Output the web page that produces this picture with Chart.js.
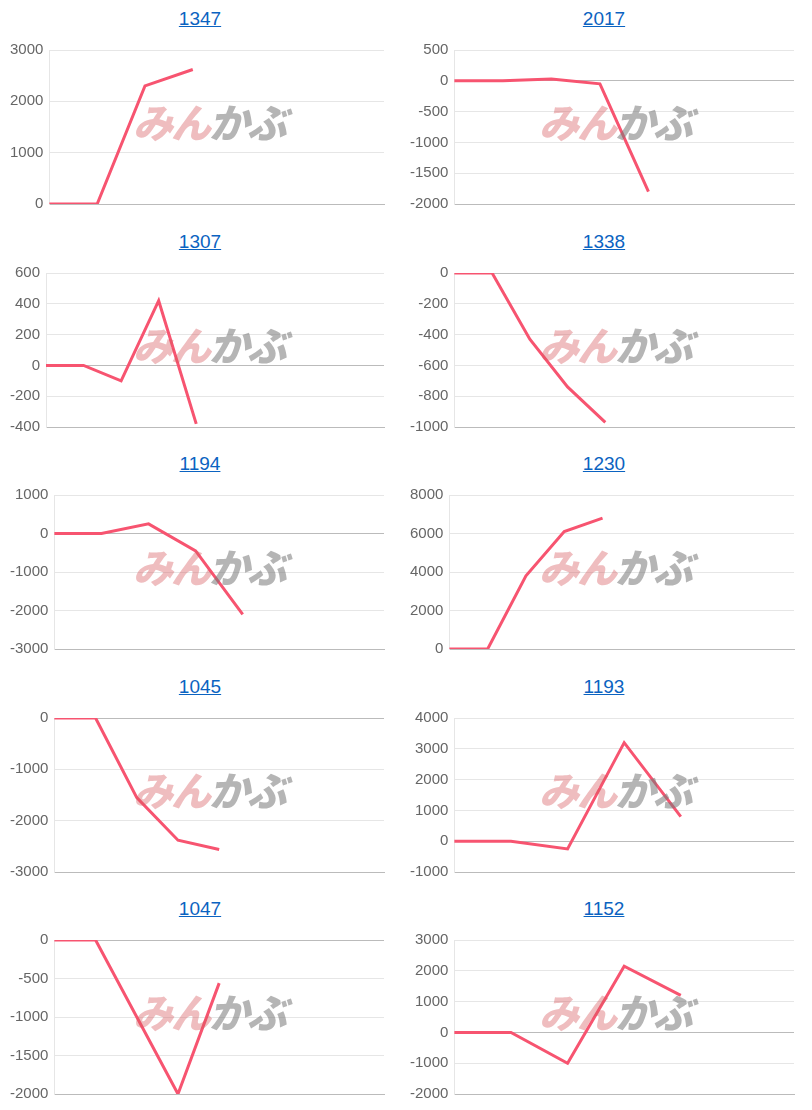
<!DOCTYPE html>
<html><head><meta charset="utf-8">
<script src="https://cdn.jsdelivr.net/npm/chart.js@4"></script>
<style>
body{margin:0;background:#fff;font-family:Arial,"Liberation Sans",sans-serif;}
.cell{position:absolute;width:400px;height:222px;}
.ttl{position:absolute;top:8px;left:0;right:0;text-align:center;font-size:19px;color:#0b63c1;text-decoration:underline;}
.cv{position:absolute;left:0;top:35px;width:100%;height:184px;}
.wm{position:absolute;font-family:"Noto Sans CJK JP",sans-serif;font-weight:900;font-style:italic;font-size:40px;letter-spacing:-2px;white-space:nowrap;pointer-events:none;}
.wm .a{color:rgba(215,90,95,0.4);} .wm .b{color:rgba(120,120,120,0.55);}
</style></head><body>
<script>
const titles=["1347","2017","1307","1338","1194","1230","1045","1193","1047","1152"];
const labelCounts=[8,8,10,10,8,10,9,7,9,7];
const values=[
 [0,0,2300,2620],
 [0,0,30,-50,-1800],
 [0,0,-100,420,-380],
 [0,0,-430,-740,-970],
 [0,0,250,-450,-2100],
 [0,0,3800,6100,6800],
 [0,0,-1550,-2380,-2560],
 [0,0,-250,3200,800],
 [0,0,-1000,-2000,-560],
 [0,0,-1000,2150,1200]
];
const yMin=[0,-2000,-400,-1000,-3000,0,-3000,-1000,-2000,-2000];
const yMax=[3000,500,600,0,1000,8000,0,4000,0,3000];
const ySteps=[1000,500,200,200,1000,2000,1000,1000,500,1000];

titles.forEach((t,i)=>{
  const col=i%2,row=Math.floor(i/2);
  const cell=document.createElement('div');cell.className='cell';
  cell.style.left=(col?404:0)+'px';cell.style.top=(row*222.5)+'px';
  cell.innerHTML='<div class="ttl">'+t+'</div><div class="cv"><canvas></canvas></div><div class="wm" style="left:'+(col?135:133)+'px;top:92px"><span class="a">みん</span><span class="b">かぶ</span></div>';
  document.body.appendChild(cell);
  const labels=Array.from({length:labelCounts[i]},(_,k)=>String(k+1));
  const data=labels.map((_,k)=>k<values[i].length?values[i][k]:null);
  new Chart(cell.querySelector('canvas'),{type:'line',
    data:{labels,datasets:[{data,borderColor:'rgb(247,84,112)',borderWidth:3,pointRadius:0,tension:0,fill:false}]},
    options:{responsive:true,maintainAspectRatio:false,animation:false,
      layout:{padding:{top:0,right:(col?10:16),bottom:6,left:(col?0:4)}},
      plugins:{legend:{display:false},tooltip:{enabled:false}},
      scales:{
        x:{ticks:{display:false},grid:{display:false,drawTicks:false},border:{display:true,color:'#bbb'}},
        y:{min:yMin[i],max:yMax[i],ticks:{stepSize:ySteps[i],color:'#666',font:{size:15,family:'Arial'},padding:6,callback:v=>String(v)},
           grid:{drawTicks:false,color:c=>c.tick&&c.tick.value===0?'#bbb':'#e6e6e6'},border:{display:true,color:'#e6e6e6'}}
      }}});
});
</script>
</body></html>
